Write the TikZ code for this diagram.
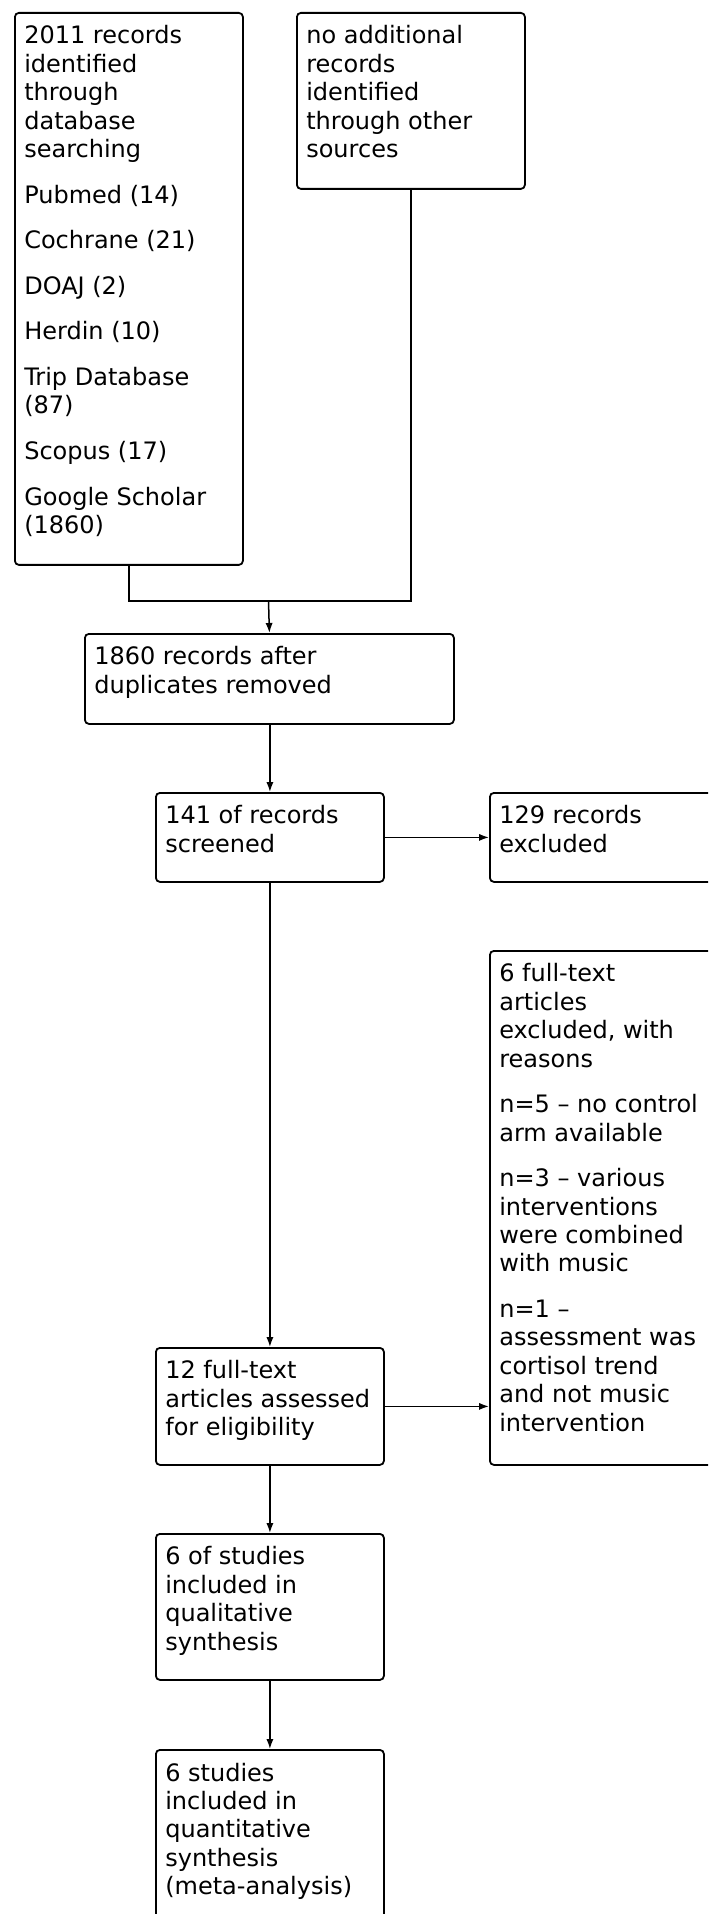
\documentclass[tikz,border=0pt]{standalone}
\usepackage{fontspec}
\setmainfont{DejaVu Sans}
\usetikzlibrary{arrows.meta,calc}
\newcommand{\bxt}[3]{\parbox[c][#2][t]{#1}{\vspace*{5.6pt}\raggedright\strut#3}}
\begin{document}
\begin{tikzpicture}[x=0.5pt,y=-0.5pt,
  box/.style={draw, line width=0.9pt, rounded corners=2pt, inner xsep=4.7pt, inner ysep=0pt,
    anchor=north west, font=\fontsize{12}{14.2}\selectfont},
  conn/.style={line width=0.75pt},
  arr/.style={conn, -{Latex[length=5pt,width=3.6pt]}}]
\useasboundingbox (0,0) rectangle (708,1914);
\clip (0,0) rectangle (708,1914);

\node[box] (b1) at (14,12) {\bxt{104.6pt}{276pt}{2011 records\\identified\\through\\database\\searching\\[8.6pt]Pubmed (14)\\[8.6pt]Cochrane (21)\\[8.6pt]DOAJ (2)\\[8.6pt]Herdin (10)\\[8.6pt]Trip Database\\(87)\\[8.6pt]Scopus (17)\\[8.6pt]Google Scholar\\(1860)}};

\node[box] (b2) at (296,12) {\bxt{104.6pt}{88pt}{no additional\\records\\identified\\through other\\sources}};

\node[box] (b3) at (84,633) {\bxt{175.1pt}{45pt}{1860 records after\\duplicates removed}};

\node[box] (b4) at (155,792) {\bxt{104.6pt}{44.5pt}{141 of records\\screened}};

\node[box] (b5) at (489,792) {\bxt{105.6pt}{44.5pt}{129 records\\excluded}};

\node[box] (b6) at (489,950) {\bxt{105.6pt}{257pt}{6 full-text\\articles\\excluded, with\\reasons\\[8.6pt]n=5 – no control\\arm available\\[8.6pt]n=3 – various\\interventions\\were combined\\with music\\[8.6pt]n=1 –\\assessment was\\cortisol trend\\and not music\\intervention}};

\node[box] (b7) at (155,1347) {\bxt{104.6pt}{58.5pt}{12 full-text\\articles assessed\\for eligibility}};

\node[box] (b8) at (155,1533) {\bxt{104.6pt}{73pt}{6 of studies\\included in\\qualitative\\synthesis}};

\node[box] (b9) at (155,1749) {\bxt{104.6pt}{90pt}{6 studies\\included in\\quantitative\\synthesis\\(meta-analysis)}};

\coordinate (j) at (268.5,601);
\draw[conn] (b1.south) |- (j);
\draw[conn] (b2.south) |- (j);
\draw[arr] (j) -- (b3.north);
\draw[arr] (b3.south -| b4.north) -- (b4.north);
\draw[arr] (b4.east) -- (b4.east -| b5.west);
\draw[arr] (b4.south) -- (b7.north);
\draw[arr] (b7.east) -- (b7.east -| b6.west);
\draw[arr] (b7.south) -- (b8.north);
\draw[arr] (b8.south) -- (b9.north);
\end{tikzpicture}
\end{document}
